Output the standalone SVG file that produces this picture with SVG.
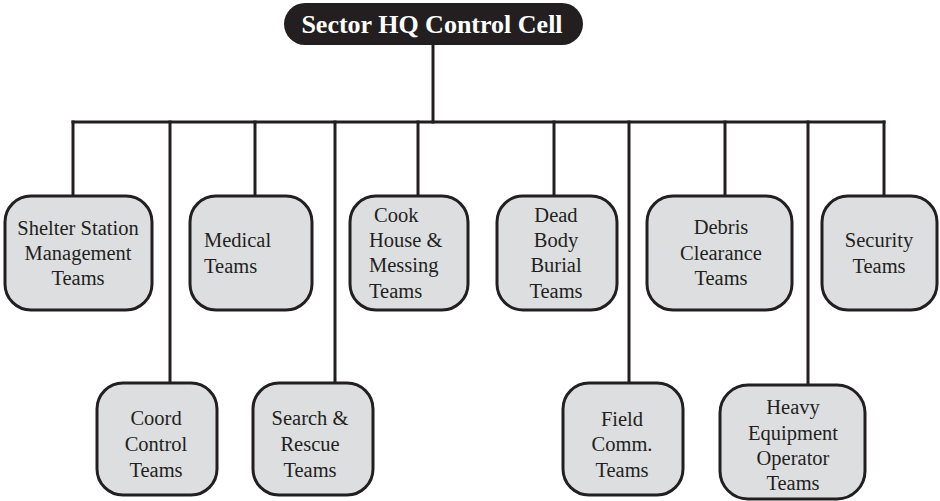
<svg xmlns="http://www.w3.org/2000/svg" width="940" height="501" viewBox="0 0 940 501">
  <style>
    .wire { stroke: #231f20; stroke-width: 3; fill: none; stroke-linecap: square; }
    .box { fill: #dddee0; stroke: #231f20; stroke-width: 3; }
    .lbl { font-family: "Liberation Serif", "Times New Roman", serif; font-size: 20.5px; fill: #231f20; text-anchor: middle; }
    .lbl-left { text-anchor: start; }
    .title { font-family: "Liberation Serif", "Times New Roman", serif; font-size: 26px; font-weight: bold; fill: #ffffff; text-anchor: middle; }
  </style>

  <rect width="940" height="501" fill="#ffffff"/>

  <!-- connectors -->
  <g id="connectors">
    <line class="wire" x1="433" y1="44" x2="433" y2="122"/>
    <line class="wire" x1="73" y1="122" x2="884" y2="122"/>
    <line class="wire" x1="73" y1="122" x2="73" y2="196"/>
    <line class="wire" x1="170" y1="122" x2="170" y2="383"/>
    <line class="wire" x1="255" y1="122" x2="255" y2="196"/>
    <line class="wire" x1="335" y1="122" x2="335" y2="383"/>
    <line class="wire" x1="418" y1="122" x2="418" y2="196"/>
    <line class="wire" x1="554" y1="122" x2="554" y2="196"/>
    <line class="wire" x1="629" y1="122" x2="629" y2="383"/>
    <line class="wire" x1="725" y1="122" x2="725" y2="196"/>
    <line class="wire" x1="808" y1="122" x2="808" y2="385"/>
    <line class="wire" x1="884" y1="122" x2="884" y2="196"/>
  </g>

  <!-- root -->
  <g id="sector-hq">
    <rect x="284" y="3" width="299" height="42" rx="21" fill="#231f20"/>
    <text class="title" x="432" y="33">Sector HQ Control Cell</text>
  </g>

  <!-- upper row -->
  <g id="shelter-station">
    <rect class="box" x="5" y="196" width="147" height="114" rx="26"/>
    <text class="lbl" x="78" y="235">Shelter Station</text>
    <text class="lbl" x="78" y="260">Management</text>
    <text class="lbl" x="78" y="285">Teams</text>
  </g>

  <g id="medical">
    <rect class="box" x="190" y="196" width="122" height="114" rx="26"/>
    <text class="lbl lbl-left" x="204" y="247">Medical</text>
    <text class="lbl lbl-left" x="204" y="273">Teams</text>
  </g>

  <g id="cook-house">
    <rect class="box" x="350" y="196" width="118" height="114" rx="26"/>
    <text class="lbl lbl-left" x="374" y="222">Cook</text>
    <text class="lbl lbl-left" x="369" y="247">House &amp;</text>
    <text class="lbl lbl-left" x="369" y="272">Messing</text>
    <text class="lbl lbl-left" x="369" y="298">Teams</text>
  </g>

  <g id="dead-body">
    <rect class="box" x="497" y="196" width="120" height="114" rx="26"/>
    <text class="lbl" x="556" y="222">Dead</text>
    <text class="lbl" x="556" y="247">Body</text>
    <text class="lbl" x="556" y="272">Burial</text>
    <text class="lbl" x="556" y="298">Teams</text>
  </g>

  <g id="debris-clearance">
    <rect class="box" x="647" y="196" width="145" height="114" rx="26"/>
    <text class="lbl" x="721" y="234">Debris</text>
    <text class="lbl" x="721" y="260">Clearance</text>
    <text class="lbl" x="721" y="285">Teams</text>
  </g>

  <g id="security">
    <rect class="box" x="822" y="196" width="115" height="114" rx="26"/>
    <text class="lbl" x="879" y="247">Security</text>
    <text class="lbl" x="879" y="273">Teams</text>
  </g>

  <!-- lower row -->
  <g id="coord-control">
    <rect class="box" x="97" y="383" width="120" height="112" rx="26"/>
    <text class="lbl" x="156" y="425">Coord</text>
    <text class="lbl" x="156" y="451">Control</text>
    <text class="lbl" x="156" y="477">Teams</text>
  </g>

  <g id="search-rescue">
    <rect class="box" x="253" y="383" width="120" height="112" rx="26"/>
    <text class="lbl" x="310" y="425">Search &amp;</text>
    <text class="lbl" x="310" y="451">Rescue</text>
    <text class="lbl" x="310" y="477">Teams</text>
  </g>

  <g id="field-comm">
    <rect class="box" x="563" y="383" width="120" height="112" rx="26"/>
    <text class="lbl" x="622" y="426">Field</text>
    <text class="lbl" x="622" y="451">Comm.</text>
    <text class="lbl" x="622" y="477">Teams</text>
  </g>

  <g id="heavy-equipment">
    <rect class="box" x="720" y="385" width="145" height="114" rx="28"/>
    <text class="lbl" x="793" y="414">Heavy</text>
    <text class="lbl" x="793" y="440">Equipment</text>
    <text class="lbl" x="793" y="465">Operator</text>
    <text class="lbl" x="793" y="490">Teams</text>
  </g>
</svg>
